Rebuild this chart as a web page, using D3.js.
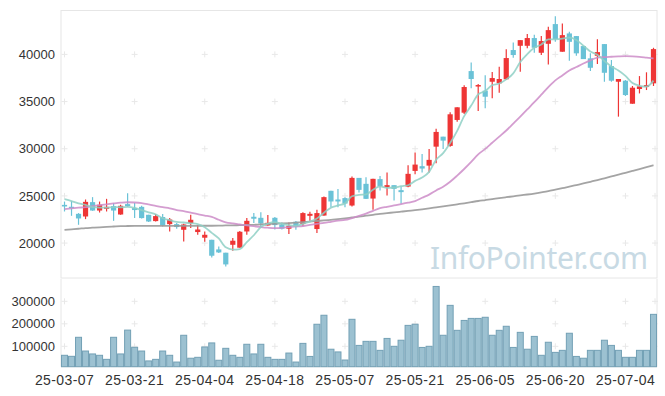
<!DOCTYPE html>
<html lang="ko">
<head>
<meta charset="UTF-8">
<title>Candlestick Chart</title>
<script src="https://d3js.org/d3.v7.min.js"></script>
<style>
  body { margin: 0; background: #fff; }
  svg { display: block; font-family: "Noto Sans", sans-serif; }
  .tick text { fill: #333; }
</style>
</head>
<body>
<svg id="chart" width="665" height="396"></svg>
<script>
// trading days (yy-mm-dd)
const dates = [
  "25-03-07","25-03-10","25-03-11","25-03-12","25-03-13","25-03-14","25-03-17","25-03-18","25-03-19","25-03-20",
  "25-03-21","25-03-24","25-03-25","25-03-26","25-03-27","25-03-28","25-03-31","25-04-01","25-04-02","25-04-03",
  "25-04-04","25-04-07","25-04-08","25-04-09","25-04-10","25-04-11","25-04-14","25-04-15","25-04-16","25-04-17",
  "25-04-18","25-04-21","25-04-22","25-04-23","25-04-24","25-04-25","25-04-28","25-04-29","25-04-30","25-05-02",
  "25-05-07","25-05-08","25-05-09","25-05-12","25-05-13","25-05-14","25-05-15","25-05-16","25-05-19","25-05-20",
  "25-05-21","25-05-22","25-05-23","25-05-26","25-05-27","25-05-28","25-05-29","25-05-30","25-06-02","25-06-04",
  "25-06-05","25-06-09","25-06-10","25-06-11","25-06-12","25-06-13","25-06-16","25-06-17","25-06-18","25-06-19",
  "25-06-20","25-06-23","25-06-24","25-06-25","25-06-26","25-06-27","25-06-30","25-07-01","25-07-02","25-07-03",
  "25-07-04","25-07-07","25-07-08","25-07-09","25-07-10"
];

const open = [
  24050,23850,23100,22820,24340,23450,23630,23920,23030,24130,
  23710,23840,23000,22330,22760,22010,22010,21410,22120,21170,
  20570,20350,19330,18980,19820,19510,21230,22790,22680,21870,
  22680,21970,21520,22260,22010,22890,21490,22920,25540,24620,
  24770,23980,26910,26280,24720,26780,25930,26140,25610,25990,
  27650,28150,28210,30220,31280,30300,33050,33820,38230,36650,
  36150,37100,36930,37360,40460,40910,40910,41730,40170,41120,
  43210,40280,42220,41940,40880,39580,39850,41090,38760,37100,
  37210,34770,36330,36540,36930
];
const high = [
  24400,24450,23180,24620,24870,24400,24690,24240,24060,25290,
  24240,23950,23000,23070,23070,22650,22120,22050,23000,21910,
  21230,20350,19640,18980,20530,21270,22650,23180,23280,22970,
  22760,22180,22180,22330,23260,23320,23530,24930,25540,25720,
  24870,27050,26910,26990,26810,27120,27470,26140,25990,28260,
  29590,29450,29980,32130,31280,33860,34390,36720,39150,36860,
  37780,38130,38690,40530,41270,41510,42150,42070,41940,42920,
  44050,43280,42390,41940,40880,40110,41590,41090,39400,37390,
  37280,36650,37700,38100,40700
];
const low = [
  23350,22890,21940,22540,23420,23240,23350,22360,23000,23840,
  22650,22610,22230,22290,21760,21230,21520,20170,21590,20880,
  20140,18480,18950,17530,19190,19510,20880,22120,21660,21830,
  21440,21440,20960,21410,21780,22360,21060,22890,23810,23810,
  23810,23880,25360,24660,23530,25570,25040,24510,24160,25930,
  27300,27470,27470,28470,29980,30220,32870,33680,36400,34000,
  34290,35350,35940,37280,39640,38160,40640,40170,39930,38940,
  41330,40280,39320,39850,39500,38230,38970,37100,37100,33400,
  35590,34770,35860,36220,36650
];
const close = [
  23880,23770,22610,24370,23450,24060,23840,23450,23950,23920,
  23500,22650,22290,22860,21870,22500,21700,21970,22470,21440,
  20880,18660,19010,17740,20250,21200,22360,22580,22080,22150,
  21910,21520,21830,21760,23180,23100,23180,24870,24410,24410,
  24190,26910,25640,24690,26810,26040,26140,25750,25400,27340,
  28320,27900,28820,31780,30860,33650,34390,36540,37390,36750,
  35510,37490,37390,39610,39930,41510,41730,40700,41410,42570,
  41620,42040,41330,40110,39500,38580,40240,38050,37210,37390,
  35690,36470,36610,36750,40560
];
const volume = [
  60000,55500,140000,79000,66000,60000,42000,140000,66000,172000,
  95500,79000,35000,42000,79000,60000,30000,149000,47000,51000,
  97000,115000,38000,91000,60000,51000,109000,66000,109000,51000,
  42000,42000,70000,30000,113000,55000,198000,238000,87000,75000,
  39000,220000,104000,122000,122000,82000,135000,100000,127000,193000,
  198000,95000,100000,366000,149000,282000,171000,215000,224000,224000,
  229000,149000,171000,189000,95000,162000,87000,144000,60000,118000,
  73000,82000,158000,55000,47000,82000,82000,127000,104000,82000,
  51000,51000,82000,82000,242000
];
// moving averages
const ma5 = [
  24650,24450,24200,24050,23800,23750,23750,23820,23800,23840,
  23730,23490,23260,23040,22630,22430,22240,22180,22100,22020,
  21690,21080,20490,19550,19310,19370,20110,20830,21690,22070,
  22220,22050,21900,21830,22040,22280,22610,23220,23750,23990,
  24210,24960,25110,25170,25650,26020,25860,25890,26030,26130,
  26590,26940,27550,28830,29530,30600,31900,33450,34570,35750,
  36120,36740,36910,37350,37990,39190,40030,40690,41050,41580,
  41600,41670,41790,41530,40920,40310,39950,39300,38720,38290,
  37720,36960,36670,36580,37220
];
const ma20 = [
  23600,23680,23750,23810,23920,24020,24110,24200,24280,24330,
  24300,24230,24100,23950,23800,23680,23500,23380,23220,23060,
  22920,22780,22470,22200,22080,21980,21880,21790,21700,21630,
  21590,21620,21690,21750,21810,21930,22040,22140,22260,22380,
  22450,22650,22880,23130,23420,23700,23850,23990,24130,24280,
  24450,24800,25140,25580,25970,26500,27150,27850,28600,29400,
  29980,30630,31280,31930,32660,33400,34170,34930,35730,36540,
  37250,37770,38290,38660,39030,39370,39650,39710,39750,39790,
  39815,39790,39740,39650,39560
];
const ma60 = [
  21400,21460,21520,21590,21630,21670,21720,21760,21800,21810,
  21820,21830,21830,21830,21830,21830,21830,21830,21830,21830,
  21840,21840,21850,21870,21880,21900,21920,21940,21980,22010,
  22050,22080,22120,22170,22220,22280,22340,22400,22470,22540,
  22620,22710,22800,22900,23000,23100,23180,23250,23330,23410,
  23490,23580,23680,23790,23900,24000,24110,24220,24340,24460,
  24560,24660,24760,24860,24960,25060,25150,25250,25370,25500,
  25660,25820,25980,26150,26320,26500,26680,26870,27060,27250,
  27450,27650,27850,28050,28250
];

const xTicks = ["25-03-07","25-03-21","25-04-04","25-04-18","25-05-07","25-05-21","25-06-05","25-06-20","25-07-04"];
const priceTicks = [20000, 25000, 30000, 35000, 40000];
const volTicks = [100000, 200000, 300000];

const svg = d3.select("#chart");
const left = 61, right = 657;
const priceTop = 10.5, priceBottom = 278;
const volTop = 279, volBottom = 366.7;

const x = d3.scaleBand().domain(dates).range([left, right]).padding(0);
const bw = x.bandwidth();
const cx = d => x(d) + bw / 2;

const y = d3.scaleLinear().domain([16300, 44650]).range([priceBottom, priceTop]);
const yv = d3.scaleLinear().domain([0, 390000]).range([368.8, 281.05]);

const rows = dates.map((d, i) => ({
  date: d, o: open[i], h: high[i], l: low[i], c: close[i], v: volume[i],
  m5: ma5[i], m20: ma20[i], m60: ma60[i]
}));

// frames
svg.append("rect")
  .attr("x", left).attr("y", priceTop)
  .attr("width", right - left).attr("height", priceBottom - priceTop)
  .attr("fill", "none").attr("stroke", "#e6e6e6");
svg.append("path")
  .attr("d", `M${left},${volTop}V${volBottom}H${right}V${volTop}`)
  .attr("fill", "none").attr("stroke", "#e6e6e6");

// grid crosses
const crossX = xTicks.map(cx).concat([655]);
function crosses(ys) {
  const g = svg.append("g").attr("stroke", "#e8e8e8").attr("stroke-width", 1);
  crossX.forEach(px => ys.forEach(py => {
    g.append("line").attr("x1", px - 3).attr("x2", px + 3).attr("y1", py).attr("y2", py);
    g.append("line").attr("x1", px).attr("x2", px).attr("y1", py - 3).attr("y2", py + 3);
  }));
}
crosses(priceTicks.map(y));
crosses(volTicks.map(yv));

// watermark
svg.append("text")
  .attr("x", 648).attr("y", 269)
  .attr("text-anchor", "end")
  .attr("textLength", 218)
  .attr("font-size", 30)
  .attr("fill", "#c8dae4")
  .text("InfoPointer.com");

// candles
const up = "#ee3535", down = "#6ac2d7";
const candles = svg.append("g");
candles.selectAll("line").data(rows).join("line")
  .attr("x1", d => cx(d.date)).attr("x2", d => cx(d.date))
  .attr("y1", d => y(d.h)).attr("y2", d => y(d.l))
  .attr("stroke", d => d.c >= d.o ? up : down)
  .attr("stroke-width", 1.2);
candles.selectAll("rect").data(rows).join("rect")
  .attr("x", d => cx(d.date) - 2.6)
  .attr("width", 5.2)
  .attr("y", d => y(Math.max(d.o, d.c)))
  .attr("height", d => Math.max(1.5, Math.abs(y(d.o) - y(d.c))))
  .attr("fill", d => d.c >= d.o ? up : down);

// moving averages
const line = key => d3.line().x(d => cx(d.date)).y(d => y(d[key])).curve(d3.curveMonotoneX);
svg.append("path").datum(rows).attr("d", line("m60"))
  .attr("fill", "none").attr("stroke", "#9a9a9a").attr("stroke-width", 1.8).attr("opacity", 0.9);
svg.append("path").datum(rows).attr("d", line("m20"))
  .attr("fill", "none").attr("stroke", "#cc8cc8").attr("stroke-width", 1.8).attr("opacity", 0.85);
svg.append("path").datum(rows).attr("d", line("m5"))
  .attr("fill", "none").attr("stroke", "#8fd0c6").attr("stroke-width", 1.8).attr("opacity", 0.85);

// volume bars
svg.append("g").selectAll("rect").data(rows).join("rect")
  .attr("x", d => x(d.date) + 0.5)
  .attr("width", bw - 1)
  .attr("y", d => yv(d.v))
  .attr("height", d => volBottom - yv(d.v))
  .attr("fill", "#9cc1d1")
  .attr("stroke", "#73a0b5")
  .attr("stroke-width", 1);

// axes
const yAxis = svg.append("g")
  .attr("transform", `translate(${left},0)`)
  .call(d3.axisLeft(y).tickValues(priceTicks).tickSize(0).tickPadding(6).tickFormat(d3.format("d")));
const vAxis = svg.append("g")
  .attr("transform", `translate(${left},0)`)
  .call(d3.axisLeft(yv).tickValues(volTicks).tickSize(0).tickPadding(6).tickFormat(d3.format("d")));
const xAxis = svg.append("g")
  .attr("transform", `translate(0,${volBottom})`)
  .call(d3.axisBottom(x).tickValues(xTicks).tickSize(0).tickPadding(8));
[yAxis, vAxis, xAxis].forEach(a => {
  a.select(".domain").remove();
  a.selectAll("text").attr("font-size", 13).attr("fill", "#333");
});
xAxis.selectAll("text").attr("font-size", 14).attr("letter-spacing", 0.4);
</script>
</body>
</html>
